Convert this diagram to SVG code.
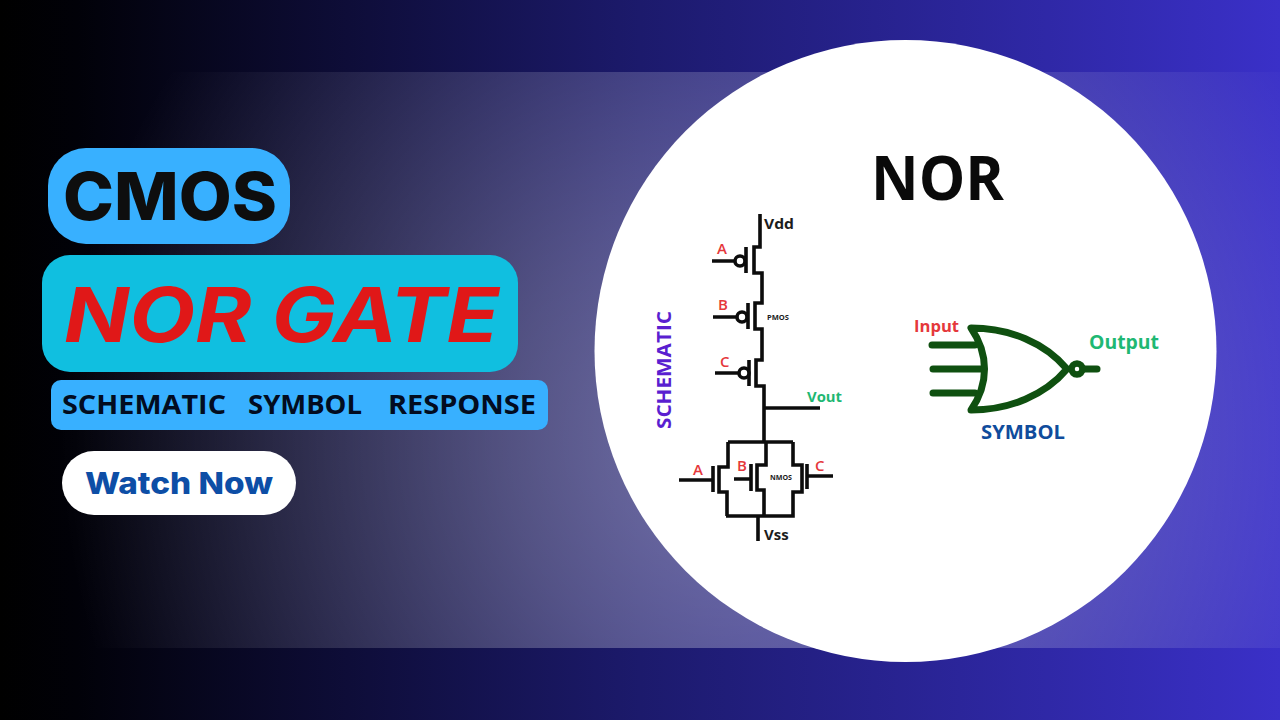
<svg xmlns="http://www.w3.org/2000/svg" width="1280" height="720" viewBox="0 0 1280 720">
<style>
.w{fill:none;stroke:#0c0c0c;stroke-width:3.6;stroke-linejoin:miter;stroke-linecap:butt}
.g{fill:none;stroke:#0f5010;stroke-width:7;stroke-linecap:round;stroke-linejoin:round}
.t{font-family:"Open Sans","Liberation Sans",sans-serif;font-weight:700}
.i{font-family:Inter,"Liberation Sans",sans-serif}
.r{fill:#e5383b;font-size:15px;font-weight:600}
.b{fill:#1c1c1c;font-size:15px}
.m{fill:#1c1c1c;font-size:7px}
</style>
<defs>
<linearGradient id="base" x1="0" y1="0" x2="1280" y2="0" gradientUnits="userSpaceOnUse">
<stop offset="0" stop-color="#000"/><stop offset=".06" stop-color="#010108"/><stop offset=".5" stop-color="#1c1a6c"/><stop offset="1" stop-color="#3a30c8"/>
</linearGradient>
<radialGradient id="glow" cx="740" cy="440" r="680" gradientUnits="userSpaceOnUse">
<stop offset="0" stop-color="#fff" stop-opacity=".38"/><stop offset=".35" stop-color="#fff" stop-opacity=".26"/><stop offset="1" stop-color="#fff" stop-opacity="0"/>
</radialGradient>
</defs>
<g id="background">
<rect width="1280" height="720" fill="url(#base)"/>
<rect y="72" width="1280" height="576" fill="url(#glow)"/>
<circle cx="905.5" cy="351" r="311" fill="#fff"/>
</g>
<g id="cmos-badge">
<rect x="48" y="148" width="242" height="96" rx="38" fill="#38b0ff"/>
<text class="i" x="63" y="220" font-size="66" font-weight="800" fill="#0e0e0e" textLength="214" lengthAdjust="spacingAndGlyphs">CMOS</text>
</g>
<g id="nor-gate-badge">
<rect x="42" y="255" width="476" height="117" rx="28" fill="#10bfe0"/>
<text class="i" x="64" y="342" font-size="76" font-weight="700" font-style="italic" fill="#e01818" textLength="435" lengthAdjust="spacingAndGlyphs">NOR GATE</text>
</g>
<g id="topics-badge">
<rect x="51" y="380" width="497" height="50" rx="10" fill="#38b0ff"/>
<text class="t" x="62" y="414" font-size="26" font-weight="600" fill="#020c20" textLength="164" lengthAdjust="spacingAndGlyphs">SCHEMATIC</text>
<text class="t" x="248" y="414" font-size="26" font-weight="600" fill="#020c20" textLength="114" lengthAdjust="spacingAndGlyphs">SYMBOL</text>
<text class="t" x="388" y="414" font-size="26" font-weight="600" fill="#020c20" textLength="148" lengthAdjust="spacingAndGlyphs">RESPONSE</text>
</g>
<g id="watch-now">
<rect x="62" y="451" width="234" height="64" rx="32" fill="#fff"/>
<text class="i" x="85" y="494" font-size="30" font-weight="800" fill="#0d4ea6" textLength="188" lengthAdjust="spacingAndGlyphs">Watch Now</text>
</g>
<g id="title">
<text class="t" x="871" y="200" font-size="60" font-weight="800" fill="#0a0a0a" textLength="133" lengthAdjust="spacingAndGlyphs">NOR</text>
</g>
<g id="schematic-label">
<text class="t" transform="translate(671 429) rotate(-90)" font-size="20" fill="#5a1fd0" textLength="118" lengthAdjust="spacingAndGlyphs">SCHEMATIC</text>
</g>
<g id="connectors">
<path class="w" d="M760 214V247H754V273H762V303H755V329H762V360H756V386H764V442"/>
<path class="w" d="M746 247V273M712 261H735M748 303V329M713 317H736M749 360V386M715 373H739"/>
<path class="w" d="M764 408H820"/>
<path class="w" d="M728 442H793M728 442V467H719V492H727V516M726 516H793V492H802V465H793V442M766 442V465H757V490H764V516"/>
<path class="w" d="M713 466V492M679 480H713M751 464V491M734 479H751M807 464V489M807 476H833M758 516V541"/>
</g>
<g id="pmos-a"><circle cx="740" cy="261" r="5" fill="#fff" stroke="#0c0c0c" stroke-width="3.6"/><text class="t r" x="717" y="254">A</text></g>
<g id="pmos-b"><circle cx="742" cy="317" r="5" fill="#fff" stroke="#0c0c0c" stroke-width="3.6"/><text class="t r" x="718" y="310">B</text></g>
<g id="pmos-c"><circle cx="744" cy="373" r="5" fill="#fff" stroke="#0c0c0c" stroke-width="3.6"/><text class="t r" x="720" y="367">C</text></g>
<g id="labels">
<text class="t b" x="764" y="229" textLength="30" lengthAdjust="spacingAndGlyphs">Vdd</text>
<text class="t m" x="767" y="320" textLength="22" lengthAdjust="spacingAndGlyphs">PMOS</text>
<text class="t" x="807" y="402" font-size="14" fill="#1fb873" textLength="35" lengthAdjust="spacingAndGlyphs">Vout</text>
<text class="t r" x="693" y="475">A</text>
<text class="t r" x="737" y="471">B</text>
<text class="t r" x="815" y="471">C</text>
<text class="t m" x="770" y="480" textLength="22" lengthAdjust="spacingAndGlyphs">NMOS</text>
<text class="t b" x="764" y="540">Vss</text>
</g>
<g id="nor-symbol">
<path class="g" d="M932 345H975M933 369H981M933 393H975"/>
<path class="g" d="M971 328C1010 328 1045 343 1067 369C1045 395 1010 410 971 410C989 384 989 354 971 328Z"/>
<circle cx="1077" cy="369" r="5.5" fill="#fff" stroke="#0f5010" stroke-width="6.5"/>
<path class="g" d="M1085 369H1097"/>
<text class="t" x="914" y="332" font-size="16" fill="#e5383b" textLength="45" lengthAdjust="spacingAndGlyphs">Input</text>
<text class="t" x="1089" y="349" font-size="19" fill="#1fb873" textLength="70" lengthAdjust="spacingAndGlyphs">Output</text>
<text class="t" x="981" y="439" font-size="19" fill="#0f4c9c" textLength="84" lengthAdjust="spacingAndGlyphs">SYMBOL</text>
</g>
</svg>
